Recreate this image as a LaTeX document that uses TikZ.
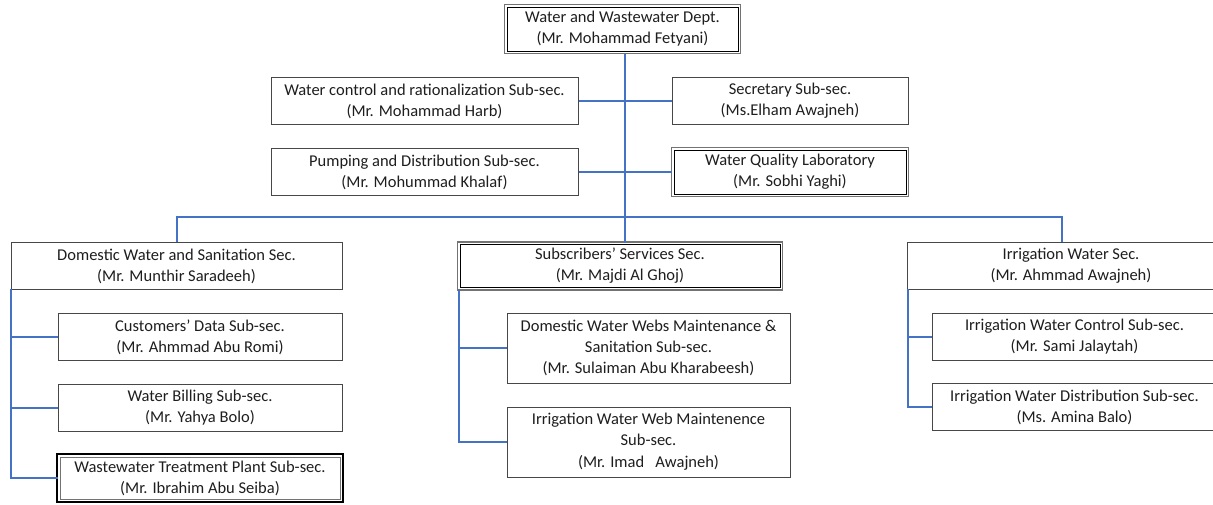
\documentclass[tikz,border=0pt]{standalone}
\usepackage{fontspec}
\setmainfont{Carlito}
\definecolor{linkblue}{RGB}{68,114,196}
\definecolor{inkgray}{RGB}{30,30,30}
\begin{document}
\begin{tikzpicture}[x=1pt,y=-1pt,
  box/.style={draw=black!72, line width=1pt, fill=white, align=center,
    inner sep=0pt, text=inkgray, font=\fontsize{16.5}{21}\selectfont,
    minimum height=47pt},
  dbl/.style={box, draw=black, line width=1pt},
  heavy/.style={box, draw=black!55, line width=0.8pt},
  frame/.style={draw=black!55, line width=1.6pt},
  thickframe/.style={draw=black, line width=2.6pt},
  link/.style={draw=linkblue, line width=2pt}]
\useasboundingbox (0,0) rectangle (1213,504);
\clip (0,0) rectangle (1213,504);

% department head and staff units
\node[dbl, minimum width=231pt, minimum height=44pt] (top) at (622.5,29)
  {Water and Wastewater Dept.\\(Mr. Mohammad Fetyani)};
\draw[frame] ([shift={(-1.9,-1.9)}]top.north west) rectangle ([shift={(1.9,1.9)}]top.south east);
\node[box, minimum width=307pt] (wc) at (424.5,101)
  {Water control and rationalization Sub-sec.\\(Mr. Mohammad Harb)};
\node[box, minimum width=236pt] (sec) at (790,101)
  {Secretary Sub-sec.\\(Ms.Elham Awajneh)};
\node[box, minimum width=307pt] (pump) at (424.5,172)
  {Pumping and Distribution Sub-sec.\\(Mr. Mohummad Khalaf)};
\node[dbl, minimum width=232pt, minimum height=44pt] (wql) at (790,172)
  {Water Quality Laboratory\\(Mr. Sobhi Yaghi)};
\draw[frame] ([shift={(-1.9,-1.9)}]wql.north west) rectangle ([shift={(1.9,1.9)}]wql.south east);

% domestic water section
\node[box, minimum width=331pt] (dom) at (176.5,266)
  {Domestic Water and Sanitation Sec.\\(Mr. Munthir Saradeeh)};
\node[box, minimum width=284pt] (cust) at (200,337)
  {Customers’ Data Sub-sec.\\(Mr. Ahmmad Abu Romi)};
\node[box, minimum width=284pt] (bill) at (200,408)
  {Water Billing Sub-sec.\\(Mr. Yahya Bolo)};
\node[heavy, minimum width=280pt, minimum height=42pt] (wwt) at (200,478)
  {Wastewater Treatment Plant Sub-sec.\\(Mr. Ibrahim Abu Seiba)};
\draw[thickframe] ([shift={(-2.6,-2.6)}]wwt.north west) rectangle ([shift={(2.6,2.6)}]wwt.south east);

% subscribers section
\node[dbl, minimum width=320pt, minimum height=43pt] (sub) at (620,266)
  {Subscribers’ Services Sec.\\(Mr. Majdi Al Ghoj)};
\draw[frame] ([shift={(-1.9,-1.9)}]sub.north west) rectangle ([shift={(1.9,1.9)}]sub.south east);
\node[box, minimum width=283pt, minimum height=70pt] (webs) at (648.5,348)
  {Domestic Water Webs Maintenance \&\\Sanitation Sub-sec.\\(Mr. Sulaiman Abu Kharabeesh)};
\node[box, minimum width=283pt, minimum height=70pt] (iweb) at (648.5,442)
  {Irrigation Water Web Maintenence\\Sub-sec.\\[1pt](Mr. Imad\ \ \ Awajneh)};

% irrigation section
\node[box, minimum width=328pt] (irr) at (1071,266)
  {Irrigation Water Sec.\\(Mr. Ahmmad Awajneh)};
\node[box, minimum width=285pt] (ictl) at (1074.5,337)
  {Irrigation Water Control Sub-sec.\\(Mr. Sami Jalaytah)};
\node[box, minimum width=285pt] (idist) at (1074.5,407)
  {Irrigation Water Distribution Sub-sec.\\(Ms. Amina Balo)};

% connectors
\coordinate (bus) at (625,217);
\coordinate (topfoot) at (625,54);
\coordinate (subhead) at (625,243);
\coordinate (irrtop) at (1062,242);
\coordinate (subleft) at (459,290);
\coordinate (domleft) at (11,289);
\coordinate (irrleft) at (908,289);
\draw[link] (topfoot) -- (bus);
\draw[link] (wc.east) -- (sec.west);
\draw[link] (pump.east) -- (pump.east -| sec.west);
\draw[link] (dom.north) |- (bus) -| (irrtop);
\draw[link] (bus) -- (subhead);

\draw[link] (domleft) |- ([xshift=-2pt]wwt.west);
\draw[link] (domleft |- cust.west) -- (cust.west);
\draw[link] (domleft |- bill.west) -- (bill.west);

\draw[link] (subleft) |- (iweb.west);
\draw[link] (subleft |- webs.west) -- (webs.west);

\draw[link] (irrleft) |- (idist.west);
\draw[link] (irrleft |- ictl.west) -- (ictl.west);
\end{tikzpicture}
\end{document}
